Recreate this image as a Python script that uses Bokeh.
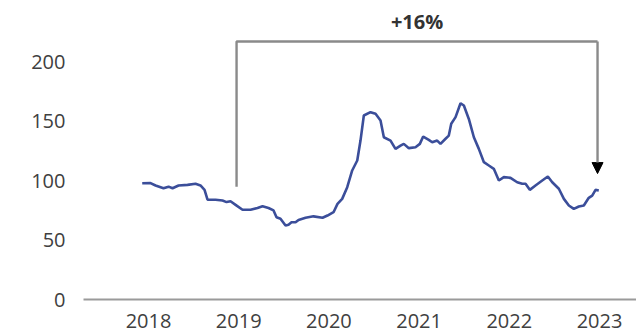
from bokeh.plotting import figure
from bokeh.models import Range1d, FixedTicker, Arrow, NormalHead, ColumnDataSource
from bokeh.core.properties import value
from bokeh.embed import file_html
from bokeh.resources import INLINE

# ---- data ----
years = [2017.930, 2018.022, 2018.078, 2018.166, 2018.222, 2018.266, 2018.333, 2018.432,
         2018.521, 2018.576, 2018.621, 2018.654, 2018.743, 2018.820, 2018.865, 2018.909,
         2018.965, 2019.042, 2019.131, 2019.208, 2019.264, 2019.330, 2019.386, 2019.419,
         2019.463, 2019.519, 2019.552, 2019.585, 2019.630, 2019.663, 2019.741, 2019.829,
         2019.929, 2019.984, 2020.051, 2020.095, 2020.147, 2020.203, 2020.258, 2020.314,
         2020.350, 2020.387, 2020.461, 2020.517, 2020.572, 2020.609, 2020.683, 2020.738,
         2020.794, 2020.830, 2020.886, 2020.960, 2021.008, 2021.045, 2021.107, 2021.145,
         2021.200, 2021.237, 2021.293, 2021.329, 2021.356, 2021.404, 2021.459, 2021.496,
         2021.551, 2021.607, 2021.662, 2021.718, 2021.773, 2021.828, 2021.884, 2021.939,
         2022.013, 2022.087, 2022.143, 2022.180, 2022.227, 2022.290, 2022.365, 2022.427,
         2022.476, 2022.549, 2022.605, 2022.660, 2022.715, 2022.771, 2022.826, 2022.881,
         2022.919, 2022.956, 2022.992]
values = [97.9, 98.0, 96.0, 93.7, 95.0, 93.7, 96.0, 96.5,
          97.4, 96.0, 92.3, 84.0, 84.0, 83.3, 82.0, 82.7,
          79.7, 75.5, 75.5, 77.0, 78.5, 77.0, 75.0, 69.3,
          68.0, 62.3, 63.0, 65.0, 65.0, 67.0, 68.8, 70.0,
          68.8, 70.7, 73.5, 80.5, 84.7, 94.5, 108.6, 117.0,
          133.8, 154.9, 157.7, 156.3, 150.7, 136.6, 133.8, 126.8,
          129.6, 131.0, 127.4, 128.2, 131.0, 137.2, 134.4, 132.4,
          133.8, 131.0, 135.3, 138.0, 147.9, 153.5, 165.2, 163.3,
          152.0, 136.6, 126.8, 115.6, 112.8, 110.0, 100.2, 103.0,
          102.4, 98.7, 97.4, 97.4, 92.3, 96.0, 100.2, 103.5,
          98.7, 93.2, 84.7, 79.1, 76.3, 78.3, 79.1, 85.6,
          87.5, 92.3, 91.8]
x_ticks = [2018, 2019, 2020, 2021, 2022, 2023]
x_tick_labels = ["2018", "2019", "2020", "2021", "2022", "2023"]
y_ticks = [0, 50, 100, 150, 200]
change_label = "+16%"
bracket_start = 2018.976
bracket_end = 2022.978
bracket_start_value = 95.0
bracket_end_value = 106.0
bracket_top = 217.2

FONT = "Open Sans"
TXT = "#404040"

p = figure(width=636, height=333, output_backend="svg", toolbar_location=None,
           x_range=Range1d(2017.279, 2023.410), y_range=Range1d(0, 251.7),
           min_border_left=83, min_border_right=0, min_border_top=0, min_border_bottom=34)
p.outline_line_color = None
p.xgrid.grid_line_color = None
p.ygrid.grid_line_color = None
p.background_fill_color = "white"
p.border_fill_color = "white"

# x axis
p.xaxis.ticker = FixedTicker(ticks=x_ticks)
p.xaxis.major_label_overrides = {t: l for t, l in zip(x_ticks, x_tick_labels)}
p.xaxis.axis_line_color = "#9a9a9a"
p.xaxis.axis_line_width = 2
p.xaxis.major_tick_line_color = None
p.xaxis.minor_tick_line_color = None
p.xaxis.major_label_text_font = FONT
p.xaxis.major_label_text_font_size = "20px"
p.xaxis.major_label_text_color = TXT
p.xaxis.major_label_standoff = 8

# y axis
p.yaxis.ticker = FixedTicker(ticks=y_ticks)
p.yaxis.axis_line_color = None
p.yaxis.major_tick_line_color = None
p.yaxis.minor_tick_line_color = None
p.yaxis.major_tick_out = 0
p.yaxis.major_label_text_font = FONT
p.yaxis.major_label_text_font_size = "20px"
p.yaxis.major_label_text_color = TXT
p.yaxis.major_label_standoff = 18

p.line(years, values, line_color="#3B4E9A", line_width=2.6)

# bracket
p.line([bracket_start, bracket_start, bracket_end],
       [bracket_start_value, bracket_top, bracket_top],
       line_color="#8a8a8a", line_width=2.4)
p.add_layout(Arrow(x_start=bracket_end, y_start=bracket_top,
                   x_end=bracket_end, y_end=bracket_end_value,
                   line_color="#8a8a8a", line_width=2.4,
                   end=NormalHead(size=11, fill_color="black", line_color="black")))

src = ColumnDataSource(dict(x=[(bracket_start + bracket_end) / 2], y=[234], t=[change_label]))
p.text(x="x", y="y", text="t", source=src, text_font=value(FONT), text_font_size="20px",
       text_font_style="bold", text_color="#333333", text_align="center",
       text_baseline="middle")

open("out.html", "w").write(file_html(p, INLINE))
